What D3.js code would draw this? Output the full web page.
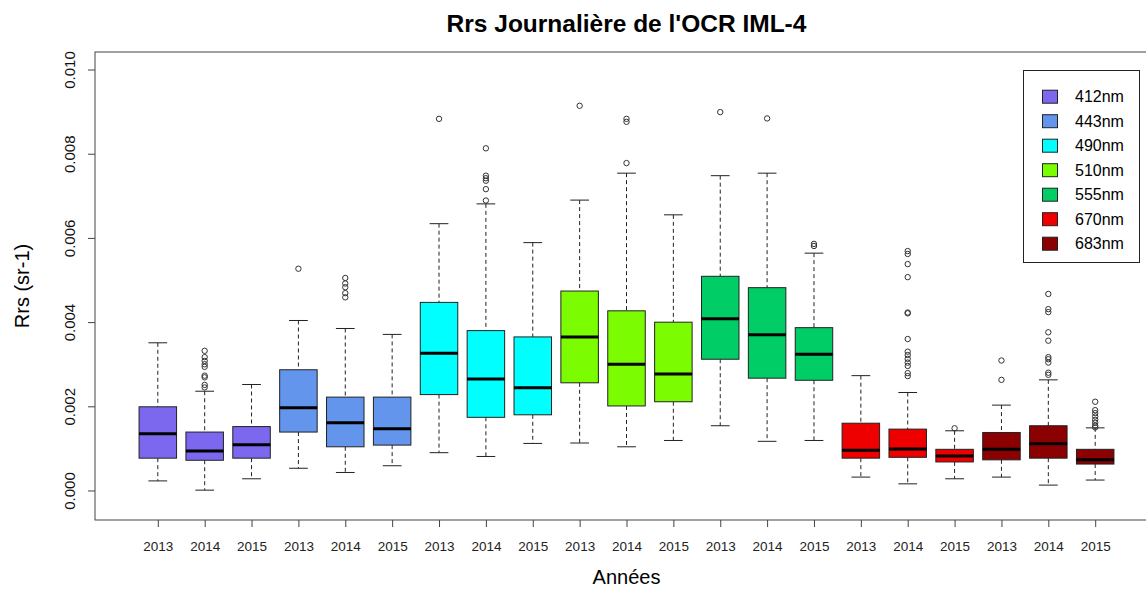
<!DOCTYPE html>
<html>
<head>
<meta charset="utf-8">
<script src="https://cdn.jsdelivr.net/npm/d3@7"></script>
<style>
  body { margin: 0; background: #fff; }
  svg { font-family: "Liberation Sans", Arial, sans-serif; display: block; }
</style>
</head>
<body>
<div id="chart"></div>
<script>
// Bands and years (one box per band x year)
const bands = ["412nm", "443nm", "490nm", "510nm", "555nm", "670nm", "683nm"];
const bandColors = ["#7B68EE", "#6495ED", "#00FFFF", "#7CFC00", "#00CD66", "#EE0000", "#8B0000"];
const years = ["2013", "2014", "2015"];

// Box statistics, in order 412/2013 .. 683/2015
const whiskerLow = [0.00024, 0.00002, 0.00029, 0.00054, 0.00044, 0.00060, 0.00091, 0.00082, 0.00113,
  0.00114, 0.00105, 0.00120, 0.00155, 0.00118, 0.00120, 0.00033, 0.00017, 0.00029, 0.00033, 0.00014, 0.00026];
const q1 = [0.00078, 0.00073, 0.00078, 0.00140, 0.00105, 0.00109, 0.00229, 0.00175, 0.00181,
  0.00257, 0.00202, 0.00212, 0.00313, 0.00268, 0.00263, 0.00078, 0.00080, 0.00069, 0.00074, 0.00078, 0.00064];
const median = [0.00136, 0.00095, 0.00110, 0.00198, 0.00162, 0.00148, 0.00327, 0.00266, 0.00245,
  0.00366, 0.00301, 0.00278, 0.00409, 0.00371, 0.00325, 0.00097, 0.00100, 0.00083, 0.00099, 0.00112, 0.00074];
const q3 = [0.00200, 0.00140, 0.00153, 0.00288, 0.00223, 0.00223, 0.00448, 0.00381, 0.00366,
  0.00475, 0.00428, 0.00401, 0.00510, 0.00483, 0.00388, 0.00161, 0.00147, 0.00099, 0.00139, 0.00155, 0.00099];
const whiskerHigh = [0.00352, 0.00237, 0.00253, 0.00405, 0.00386, 0.00372, 0.00635, 0.00682, 0.00590,
  0.00691, 0.00755, 0.00656, 0.00749, 0.00755, 0.00565, 0.00274, 0.00234, 0.00143, 0.00204, 0.00264, 0.00150];
const outliers = [
  [],
  [0.00333, 0.00318, 0.00309, 0.00301, 0.00295, 0.00274, 0.00270, 0.00252, 0.00246],
  [],
  [0.00528],
  [0.00506, 0.00493, 0.00484, 0.00470, 0.00460],
  [],
  [0.00884],
  [0.00814, 0.00749, 0.00743, 0.00737, 0.00717, 0.00690],
  [],
  [0.00915],
  [0.00884, 0.00877, 0.00779],
  [],
  [0.00900],
  [0.00885],
  [0.00587, 0.00582],
  [],
  [0.00570, 0.00563, 0.00539, 0.00508, 0.00424, 0.00422, 0.00361, 0.00331, 0.00323, 0.00314, 0.00305, 0.00297, 0.00280, 0.00273],
  [0.00149],
  [0.00310, 0.00264],
  [0.00468, 0.00432, 0.00425, 0.00377, 0.00357, 0.00318, 0.00313, 0.00305, 0.00281, 0.00276],
  [0.00212, 0.00192, 0.00185, 0.00177, 0.00169, 0.00162, 0.00155, 0.00151]
];
const yTicks = [0, 0.002, 0.004, 0.006, 0.008, 0.010];

// Build one record per box
const boxes = whiskerLow.map((d, i) => ({
  pos: i + 1,
  band: bands[Math.floor(i / 3)],
  color: bandColors[Math.floor(i / 3)],
  year: years[i % 3],
  lo: d, q1: q1[i], med: median[i], q3: q3[i], hi: whiskerHigh[i],
  out: outliers[i]
}));

const width = 1146, height = 589;
const plot = { left: 95, right: 1158, top: 52, bottom: 520 };

const svg = d3.select("#chart").append("svg")
  .attr("width", width)
  .attr("height", height);

const x = d3.scaleLinear().domain([-0.34, 22.34]).range([plot.left, plot.right]);
const y = d3.scaleLinear().domain([-0.000689, 0.010428]).range([plot.bottom, plot.top]);

const step = x(2) - x(1);
const boxW = step * 0.8;
const capW = boxW / 2;

// Title
svg.append("text")
  .attr("x", (plot.left + plot.right) / 2)
  .attr("y", 32)
  .attr("text-anchor", "middle")
  .style("font-size", "24.5px")
  .style("font-weight", "bold")
  .text("Rrs Journalière de l'OCR IML-4");

// Boxes
const g = svg.append("g");
const box = g.selectAll("g.box").data(boxes).join("g").attr("class", "box");

// dashed whiskers
box.append("line")
  .attr("x1", d => x(d.pos)).attr("x2", d => x(d.pos))
  .attr("y1", d => y(d.hi)).attr("y2", d => y(d.q3))
  .attr("stroke", "#222").attr("stroke-dasharray", "4,3");
box.append("line")
  .attr("x1", d => x(d.pos)).attr("x2", d => x(d.pos))
  .attr("y1", d => y(d.q1)).attr("y2", d => y(d.lo))
  .attr("stroke", "#222").attr("stroke-dasharray", "4,3");
// staples
box.selectAll("line.cap").data(d => [[d.pos, d.hi], [d.pos, d.lo]]).join("line")
  .attr("class", "cap")
  .attr("x1", d => x(d[0]) - capW / 2).attr("x2", d => x(d[0]) + capW / 2)
  .attr("y1", d => y(d[1])).attr("y2", d => y(d[1]))
  .attr("stroke", "#222");
// box body
box.append("rect")
  .attr("x", d => x(d.pos) - boxW / 2)
  .attr("width", boxW)
  .attr("y", d => y(d.q3))
  .attr("height", d => y(d.q1) - y(d.q3))
  .attr("fill", d => d.color)
  .attr("stroke", "#222");
// median
box.append("line")
  .attr("x1", d => x(d.pos) - boxW / 2).attr("x2", d => x(d.pos) + boxW / 2)
  .attr("y1", d => y(d.med)).attr("y2", d => y(d.med))
  .attr("stroke", "#000").attr("stroke-width", 3);
// outliers
box.selectAll("circle").data(d => d.out.map(v => [d.pos, v])).join("circle")
  .attr("cx", d => x(d[0])).attr("cy", d => y(d[1]))
  .attr("r", 2.7)
  .attr("fill", "none")
  .attr("stroke", "#333");

// Plot frame
svg.append("rect")
  .attr("x", plot.left).attr("y", plot.top)
  .attr("width", plot.right - plot.left).attr("height", plot.bottom - plot.top)
  .attr("fill", "none").attr("stroke", "#444");

// Y axis
const yAxis = svg.append("g")
  .attr("transform", `translate(${plot.left},0)`)
  .call(d3.axisLeft(y).tickValues(yTicks).tickFormat(d3.format(".3f")).tickSize(7).tickPadding(0));
yAxis.select(".domain").remove();
yAxis.selectAll("line").attr("stroke", "#444");
yAxis.selectAll("text")
  .attr("transform", d => `translate(-20,${y(d)}) rotate(-90)`)
  .attr("x", 0).attr("dy", 0)
  .attr("text-anchor", "middle")
  .attr("fill", "#111")
  .style("font-size", "15px")
  .style("font-family", "'Liberation Sans', Arial, sans-serif");
yAxis.selectAll(".tick").attr("transform", null);
yAxis.selectAll(".tick line").attr("y1", d => y(d)).attr("y2", d => y(d));

// X axis
const xAxis = svg.append("g")
  .attr("transform", `translate(0,${plot.bottom})`)
  .call(d3.axisBottom(x).tickValues(boxes.map(d => d.pos)).tickFormat(p => boxes[p - 1].year).tickSize(7).tickPadding(14));
xAxis.select(".domain").remove();
xAxis.selectAll("line").attr("stroke", "#444");
xAxis.selectAll("text")
  .attr("fill", "#222")
  .style("font-size", "13.5px")
  .style("font-family", "'Liberation Sans', Arial, sans-serif");

// Axis titles
svg.append("text")
  .attr("x", (plot.left + plot.right) / 2)
  .attr("y", 584)
  .attr("text-anchor", "middle")
  .style("font-size", "20px")
  .text("Années");
svg.append("text")
  .attr("transform", `translate(29,${(plot.top + plot.bottom) / 2}) rotate(-90)`)
  .attr("text-anchor", "middle")
  .style("font-size", "20px")
  .text("Rrs (sr-1)");

// Legend
const legend = svg.append("g");
legend.append("rect")
  .attr("x", 1023.5).attr("y", 70.5)
  .attr("width", 116).attr("height", 192)
  .attr("fill", "#fff").attr("stroke", "#222");
const item = legend.selectAll("g.item").data(bands).join("g")
  .attr("class", "item")
  .attr("transform", (d, i) => `translate(0,${96.7 + i * 24.5})`);
item.append("rect")
  .attr("x", 1042.5).attr("y", -6.5)
  .attr("width", 15).attr("height", 13)
  .attr("fill", (d, i) => bandColors[i])
  .attr("stroke", "#222");
item.append("text")
  .attr("x", 1075).attr("y", 5.5)
  .style("font-size", "16px")
  .text(d => d);
</script>
</body>
</html>
